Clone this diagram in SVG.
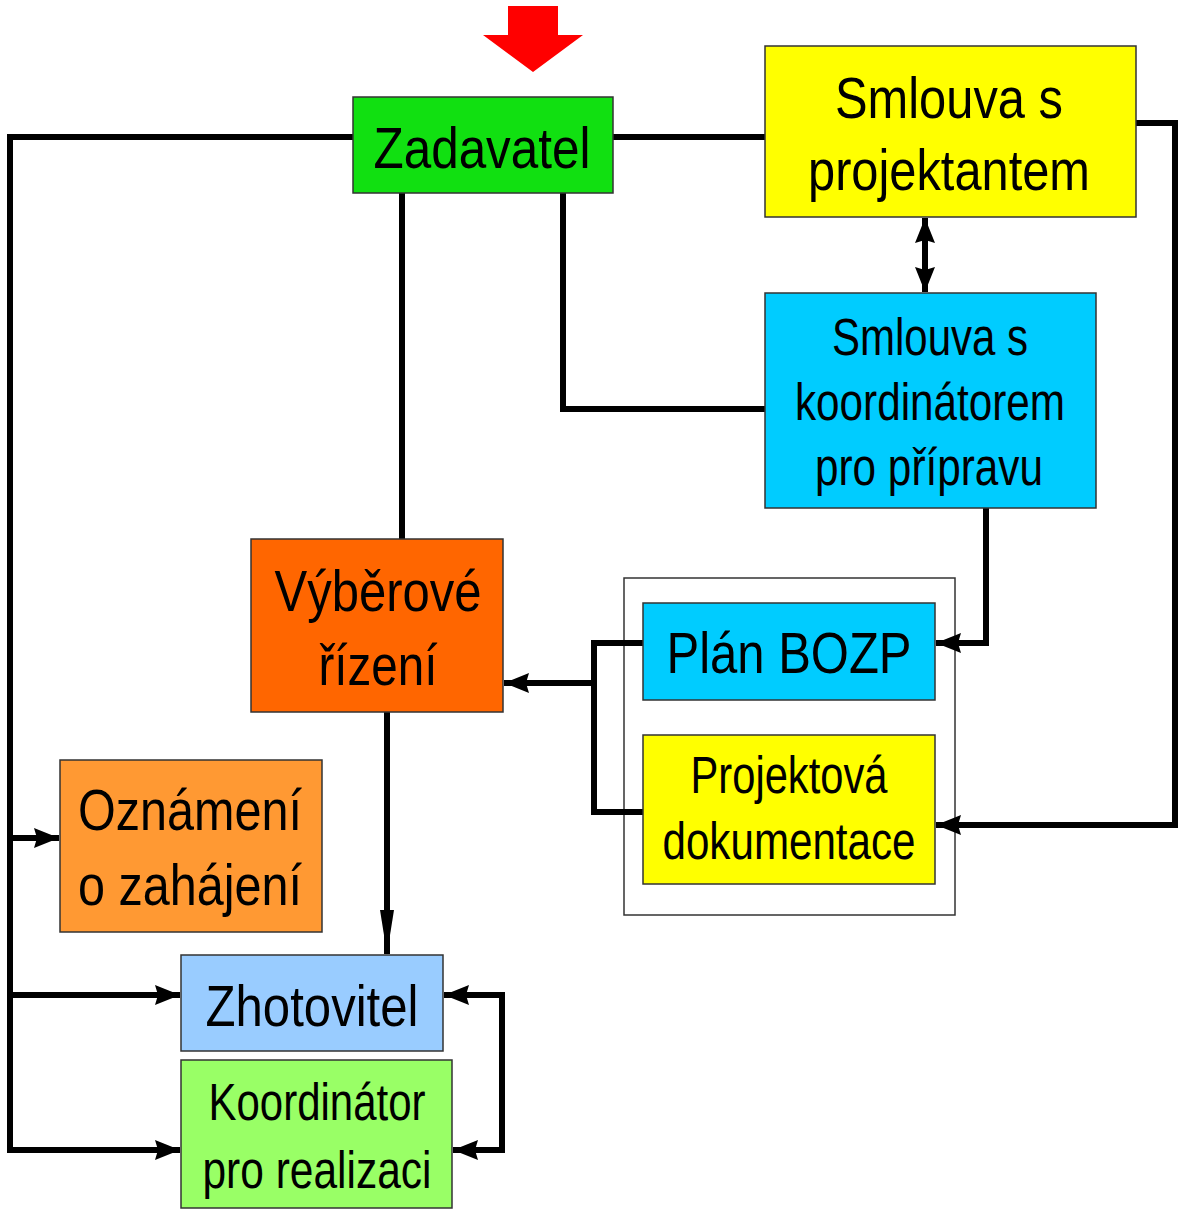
<svg xmlns="http://www.w3.org/2000/svg" width="1178" height="1210" viewBox="0 0 1178 1210">
<style>
.box{stroke:#333;stroke-width:1.5}
.t{font-family:"Liberation Sans",Arial,sans-serif;fill:#000;text-anchor:middle}
.big{font-size:58px}
.mid{font-size:51px}
.c{fill:none;stroke:#000;stroke-width:6;stroke-linejoin:miter}
</style>
<defs>
<marker id="ah" markerUnits="userSpaceOnUse" markerWidth="26" markerHeight="24" refX="25" refY="12" orient="auto-start-reverse" viewBox="0 0 26 24">
<path d="M0,2 L25,12 L0,22 L3,12 Z" fill="#000"/>
</marker>
<marker id="an" markerUnits="userSpaceOnUse" markerWidth="44" markerHeight="16" refX="44" refY="8" orient="auto" viewBox="0 0 44 16">
<path d="M0,1 L44,8 L0,15 Z" fill="#000"/>
</marker>
</defs>
<rect width="1178" height="1210" fill="#fff"/>
<g id="dokumentace-group">
<rect x="624" y="578" width="331" height="337" fill="#fff" stroke="#333" stroke-width="1.5"/>
</g>
<g id="connectors">
<path class="c" d="M353,137 H10 V1150 H180" marker-end="url(#ah)"/>
<path class="c" d="M10,838 H59" marker-end="url(#ah)"/>
<path class="c" d="M10,995 H180" marker-end="url(#ah)"/>
<path class="c" d="M613,137 H765"/>
<path class="c" d="M1136,123 H1175 V825 H936" marker-end="url(#ah)"/>
<path class="c" d="M402,193 V539"/>
<path class="c" d="M563,193 V409 H765"/>
<path class="c" d="M925,218 V292" marker-start="url(#ah)" marker-end="url(#ah)"/>
<path class="c" d="M986,508 V643 H936" marker-end="url(#ah)"/>
<path class="c" d="M643,643 H594 V812 H643"/>
<path class="c" d="M594,683 H504" marker-end="url(#ah)"/>
<path class="c" d="M387,712 V954" marker-end="url(#an)"/>
<path class="c" d="M444,995 H502 V1150 H453" marker-start="url(#ah)" marker-end="url(#ah)"/>
</g>
<g id="start-arrow">
<polygon points="508,6 558,6 558,35 583,35 533,72 483,35 508,35" fill="#ff0000"/>
</g>
<g id="zadavatel">
<rect class="box" x="353" y="97" width="260" height="96" fill="#11e011"/>
<text class="t big" x="482" y="168" textLength="217" lengthAdjust="spacingAndGlyphs">Zadavatel</text>
</g>
<g id="smlouva-projektant">
<rect class="box" x="765" y="46" width="371" height="171" fill="#ffff00"/>
<text class="t big" x="949" y="118" textLength="228" lengthAdjust="spacingAndGlyphs">Smlouva s</text>
<text class="t big" x="949" y="190" textLength="282" lengthAdjust="spacingAndGlyphs">projektantem</text>
</g>
<g id="smlouva-koordinator">
<rect class="box" x="765" y="293" width="331" height="215" fill="#00ccff"/>
<text class="t mid" x="930" y="355" textLength="196" lengthAdjust="spacingAndGlyphs">Smlouva s</text>
<text class="t mid" x="930" y="420" textLength="270" lengthAdjust="spacingAndGlyphs">koordinátorem</text>
<text class="t mid" x="929" y="485" textLength="228" lengthAdjust="spacingAndGlyphs">pro přípravu</text>
</g>
<g id="vyberove-rizeni">
<rect class="box" x="251" y="539" width="252" height="173" fill="#ff6600"/>
<text class="t big" x="378" y="611" textLength="207" lengthAdjust="spacingAndGlyphs">Výběrové</text>
<text class="t big" x="378" y="685" textLength="119" lengthAdjust="spacingAndGlyphs">řízení</text>
</g>
<g id="plan-bozp">
<rect class="box" x="643" y="603" width="292" height="97" fill="#00ccff"/>
<text class="t big" x="789" y="673" textLength="245" lengthAdjust="spacingAndGlyphs">Plán BOZP</text>
</g>
<g id="projektova-dokumentace">
<rect class="box" x="643" y="735" width="292" height="149" fill="#ffff00"/>
<text class="t mid" x="789" y="793" textLength="197" lengthAdjust="spacingAndGlyphs">Projektová</text>
<text class="t mid" x="789" y="859" textLength="253" lengthAdjust="spacingAndGlyphs">dokumentace</text>
</g>
<g id="oznameni">
<rect class="box" x="60" y="760" width="262" height="172" fill="#ff9933"/>
<text class="t big" x="190" y="830" textLength="224" lengthAdjust="spacingAndGlyphs">Oznámení</text>
<text class="t big" x="190" y="905" textLength="224" lengthAdjust="spacingAndGlyphs">o zahájení</text>
</g>
<g id="zhotovitel">
<rect class="box" x="181" y="955" width="262" height="96" fill="#99ccff"/>
<text class="t big" x="312" y="1026" textLength="213" lengthAdjust="spacingAndGlyphs">Zhotovitel</text>
</g>
<g id="koordinator-realizace">
<rect class="box" x="181" y="1060" width="271" height="148" fill="#99ff66"/>
<text class="t mid" x="317" y="1120" textLength="217" lengthAdjust="spacingAndGlyphs">Koordinátor</text>
<text class="t mid" x="317" y="1188" textLength="229" lengthAdjust="spacingAndGlyphs">pro realizaci</text>
</g>
</svg>
